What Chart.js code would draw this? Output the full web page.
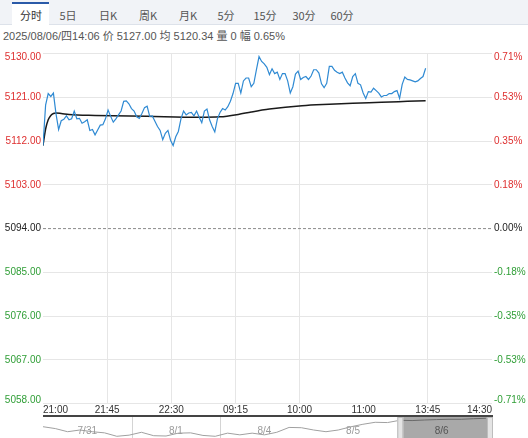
<!DOCTYPE html>
<html><head><meta charset="utf-8">
<script src="https://cdn.jsdelivr.net/npm/chart.js@4.4.1/dist/chart.umd.min.js"></script>
<style>
html,body{margin:0;padding:0;background:#fff;width:528px;height:438px;overflow:hidden;font-family:"Liberation Sans","Noto Sans CJK SC",sans-serif;}
#tabbar{position:absolute;left:0;top:0;width:528px;height:24px;background:#f1f3f7;border-bottom:1px solid #dde2ea;}
#active{position:absolute;left:12px;top:2px;width:37px;height:23px;background:#fff;border-top:2px solid #2a5aa8;}
.tab{position:absolute;top:8px;font-size:11px;line-height:14px;color:#555;transform:translateX(-50%);white-space:nowrap;font-family:"Noto Sans CJK SC","Liberation Sans",sans-serif;}
#info{position:absolute;left:3px;top:29px;font-size:11px;line-height:14px;color:#555;white-space:nowrap;font-family:"Liberation Sans","Noto Sans CJK SC",sans-serif;}
#main{position:absolute;left:0;top:44px;}
#axisline{position:absolute;left:43px;top:415px;width:450px;height:2px;background:#444;}
#nav{position:absolute;left:0;top:417px;}
</style></head>
<body>
<div id="tabbar"><div id="active"></div></div>
<div id="info"></div>
<canvas id="main" width="528" height="373"></canvas>
<div id="axisline"></div>
<canvas id="nav" width="528" height="30"></canvas>
<script>
// ---- data ----
const tabNames = ['分时','5日','日K','周K','月K','5分','15分','30分','60分'];
const infoText = '2025/08/06/四14:06 价 5127.00 均 5120.34 量 0 幅 0.65%';
const prevClose = 5094;
const yTicks = [5130,5121,5112,5103,5094,5085,5076,5067,5058];
const yLabels = ['5130.00','5121.00','5112.00','5103.00','5094.00','5085.00','5076.00','5067.00','5058.00'];
const pctLabels = ['0.71%','0.53%','0.35%','0.18%','0.00%','-0.18%','-0.35%','-0.53%','-0.71%'];
const xLabels = ['21:00','21:45','22:30','09:15','10:00','11:00','13:45','14:30'];
const sessionMinutes = 345;
const priceStep = 2; // minutes between price samples
const prices = [
5111.1,5119.4,5121.8,5121.2,5121.9,5117.6,5114.4,5116.2,5116.5,5117.2,
5116.4,5116.6,5118.2,5116.6,5116.7,5115.7,5116.0,5116.4,5114.2,5114.4,
5113.3,5114.3,5115.3,5115.4,5116.6,5118.4,5117.1,5115.9,5116.6,5117.4,
5118.2,5120.2,5120.3,5119.7,5118.7,5118.2,5117.0,5116.7,5117.7,5118.9,
5119.2,5117.1,5117.2,5116.1,5115.0,5114.2,5112.3,5113.6,5114.2,5112.2,
5111.1,5112.9,5114.0,5116.6,5118.2,5117.4,5117.8,5117.9,5117.2,5118.2,
5116.9,5115.8,5118.2,5118.6,5116.4,5115.0,5113.9,5116.6,5117.9,5118.7,
5118.4,5119.1,5120.2,5121.8,5123.9,5123.9,5121.9,5124.4,5125.0,5125.0,
5123.2,5123.9,5126.7,5129.4,5128.4,5127.9,5127.2,5125.7,5126.9,5125.9,
5126.2,5124.7,5125.9,5125.9,5124.4,5121.9,5123.2,5125.8,5126.4,5124.7,
5125.1,5125.3,5124.7,5125.4,5126.7,5126.7,5126.0,5123.8,5123.0,5123.9,
5127.4,5127.4,5126.6,5126.2,5125.9,5126.2,5125.0,5124.0,5123.4,5125.3,
5125.9,5123.9,5123.6,5121.9,5120.8,5122.2,5122.1,5122.9,5122.4,5121.9,
5121.1,5121.4,5121.4,5121.8,5121.8,5122.2,5122.4,5120.8,5123.7,5125.2,
5124.7,5124.6,5124.4,5124.2,5124.4,5124.9,5125.3,5127.0];
const avgMinutes = [0,2,4,6,8,10,14,20,40,80,120,136,150,160,174,199,220,238,260,280,294];
const avgValues = [5111.1,5114.5,5116.4,5117.3,5117.7,5117.8,5117.7,5117.5,5117.3,5117.1,5116.9,5117.0,5117.5,5118.0,5118.6,5119.3,5119.6,5119.8,5120.0,5120.2,5120.34];
const navDays = ['7/31','8/1','8/4','8/5','8/6'];
const navValues = [5099.5,5093,5082,5088,5082,5078,5066,5070,5080,5068,5067,5077,5078,5069,5066,5077,5071,5077,5071,5080,
5097,5096,5088,5082,5088,5099,5108,5115,5114,5122,5121,5123,5124.5,5125.5,5125.5,5127.5,5129];
const navWindow = [4, 5.08];
const navDividers = [1, 2];

// ---- layout constants ----
const tabCenters = [31,68,108,148,188,226,265,304,342];
const xGridShown = [1,2,3,4,6];
const RED = '#de2f2f', GREEN = '#2f9e36', BLACK = '#222';
const FONT = '"Liberation Sans", Arial, sans-serif';

const bar = document.getElementById('tabbar');
tabNames.forEach((t, i) => {
  const s = document.createElement('span');
  s.className = 'tab'; s.textContent = t; s.style.left = tabCenters[i] + 'px';
  if (i === 0) s.style.color = '#333';
  bar.appendChild(s);
});
document.getElementById('info').textContent = infoText;

const tickColor = ctx => ctx.tick.value > prevClose ? RED : (ctx.tick.value < prevClose ? GREEN : BLACK);
const tickFont = ctx => ({family: FONT, size: 10, lineHeight: (ctx.index === 0 || ctx.index === yTicks.length - 1) ? 0.75 : 1.2});
const edgeLabel = (arr) => (v, i) => i === 0 ? ['', arr[i]] : (i === arr.length - 1 ? [arr[i], ''] : arr[i]);
const setYTicks = s => { s.ticks = yTicks.map(v => ({value: v})); };

new Chart(document.getElementById('main'), {
  type: 'line',
  data: {
    datasets: [
      {data: [{x: 0, y: prevClose}, {x: sessionMinutes, y: prevClose}], borderColor: '#8a8a8a', borderWidth: 1, borderDash: [3, 2], pointRadius: 0},
      {data: prices.map((v, i) => ({x: i * priceStep, y: v})), borderColor: '#2f8ad3', borderWidth: 1.2, pointRadius: 0, tension: 0},
      {data: avgMinutes.map((m, i) => ({x: m, y: avgValues[i]})), borderColor: '#1a1a1a', borderWidth: 1.5, pointRadius: 0, cubicInterpolationMode: 'monotone'}
    ]
  },
  options: {
    responsive: false, animation: false,
    layout: {padding: {top: 9.7, left: 0, right: 0, bottom: 0}},
    plugins: {legend: {display: false}, tooltip: {enabled: false}},
    scales: {
      x: {
        type: 'linear', min: 0, max: sessionMinutes,
        afterBuildTicks: s => { s.ticks = xLabels.map((_, k) => ({value: k * sessionMinutes / (xLabels.length - 1)})); },
        afterFit: s => { s.height = 13.5; },
        ticks: {autoSkip: false, maxRotation: 0, align: 'inner', padding: 1, color: '#333', font: {family: FONT, size: 10}, callback: (v, i) => xLabels[i]},
        grid: {drawTicks: false, color: ctx => xGridShown.includes(ctx.index) ? '#e6e6e6' : 'rgba(0,0,0,0)'},
        border: {display: false}
      },
      y: {
        position: 'left', min: 5058, max: 5130,
        afterBuildTicks: setYTicks,
        afterFit: s => { s.width = 43; },
        ticks: {autoSkip: false, padding: 2, color: tickColor, font: tickFont, callback: edgeLabel(yLabels)},
        grid: {drawTicks: false, color: ctx => ctx.tick && ctx.tick.value === prevClose ? 'rgba(0,0,0,0)' : '#e6e6e6'},
        border: {display: false}
      },
      yR: {
        position: 'right', min: 5058, max: 5130,
        afterBuildTicks: setYTicks,
        afterFit: s => { s.width = 36; },
        ticks: {autoSkip: false, padding: 2, color: tickColor, font: tickFont, callback: edgeLabel(pctLabels)},
        grid: {display: false, drawTicks: false},
        border: {display: false}
      }
    }
  }
});

const navPlugin = {
  id: 'navDeco',
  beforeDatasetsDraw(chart) {
    const {ctx, chartArea: a, scales: {x}} = chart;
    ctx.save();
    ctx.fillStyle = '#a9a9a9';
    const x0 = x.getPixelForValue(navWindow[0]), x1 = x.getPixelForValue(navWindow[1]);
    ctx.fillRect(x0, a.top, x1 - x0, a.bottom - a.top);
    ctx.strokeStyle = '#d4d4d4'; ctx.lineWidth = 1;
    navDividers.forEach(d => { const px = Math.round(x.getPixelForValue(d)) + 0.5; ctx.beginPath(); ctx.moveTo(px, a.top); ctx.lineTo(px, a.bottom); ctx.stroke(); });
    ctx.restore();
  },
  afterDatasetsDraw(chart) {
    const {ctx, chartArea: a, scales: {x}} = chart;
    ctx.save();
    const x0 = x.getPixelForValue(navWindow[0]), x1 = x.getPixelForValue(navWindow[1]);
    ctx.fillStyle = '#e4e4e4'; ctx.strokeStyle = '#bdbdbd'; ctx.lineWidth = 1;
    [[x0, x0 + 6], [x1 - 6, x1]].forEach(([l, r]) => { ctx.fillRect(l, a.top, r - l, a.bottom - a.top); ctx.strokeRect(l + 0.5, a.top + 0.5, r - l - 1, a.bottom - a.top); });
    ctx.font = '10px ' + FONT; ctx.textAlign = 'center'; ctx.textBaseline = 'middle';
    navDays.forEach((d, i) => { ctx.fillStyle = (i + 0.5) >= navWindow[0] ? '#555' : '#9a9a9a'; ctx.fillText(d, x.getPixelForValue(i + 0.5), a.top + 14); });
    ctx.restore();
  }
};

new Chart(document.getElementById('nav'), {
  type: 'line',
  data: {datasets: [{
    data: navValues.map((v, i) => ({x: i * navDays.length / (navValues.length - 1), y: v})),
    borderColor: '#a0a0a0', borderWidth: 1, pointRadius: 0,
    segment: {borderColor: c => c.p0.parsed.x >= navWindow[0] ? '#6a6a6a' : '#a0a0a0'}
  }]},
  options: {
    responsive: false, animation: false,
    layout: {padding: {left: 43, right: 35, top: 0, bottom: 0}},
    plugins: {legend: {display: false}, tooltip: {enabled: false}},
    scales: {x: {type: 'linear', display: false, min: 0, max: navWindow[1]}, y: {display: false, min: 5028.5, max: 5133.5}}
  },
  plugins: [navPlugin]
});
</script>
</body></html>
